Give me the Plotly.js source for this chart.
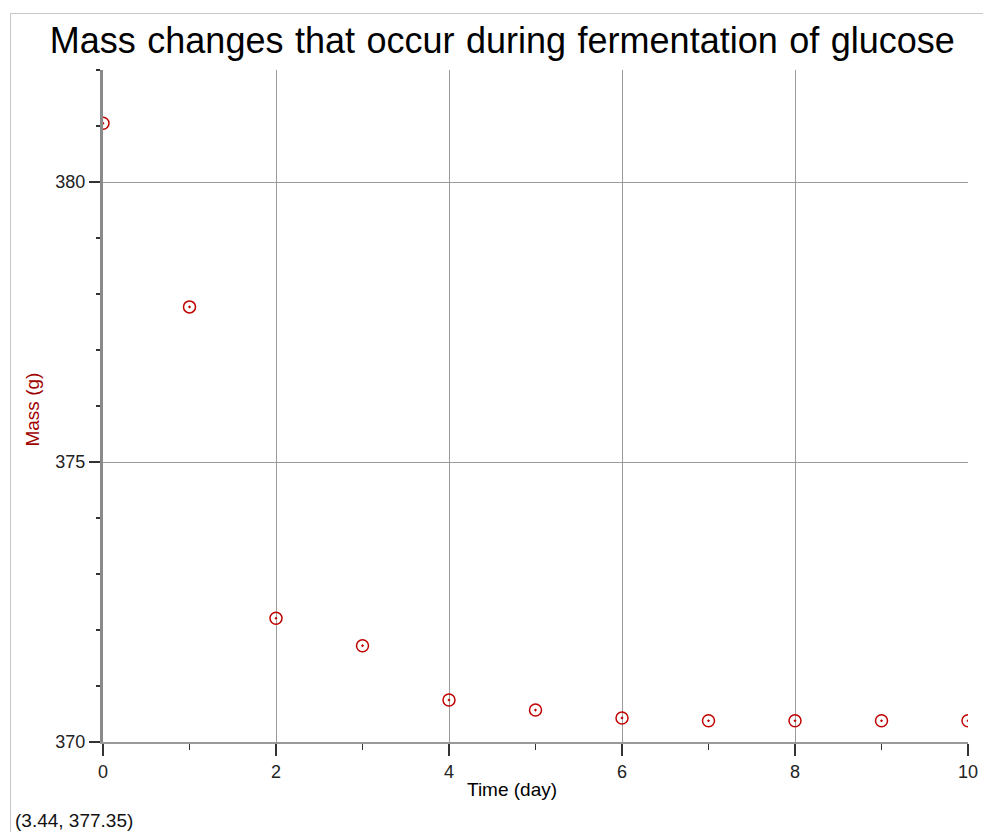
<!DOCTYPE html>
<html>
<head>
<meta charset="utf-8">
<script src="https://cdn.plot.ly/plotly-3.0.1.min.js"></script>
<style>
  html, body { margin: 0; padding: 0; background: #fff; }
  #wrap { position: relative; width: 983px; height: 832px; }
  #chart { width: 983px; height: 832px; }
  #frame { position: absolute; left: 10px; top: 13px; right: 0; bottom: 0;
           border-left: 1px solid #c8c8c8; border-top: 1px solid #c8c8c8; pointer-events: none; }
  .gtitle { word-spacing: 1.5px; }
</style>
</head>
<body>
<div id="wrap">
  <div id="chart"></div>
  <div id="frame"></div>
</div>
<script>
const timeDays = [0, 1, 2, 3, 4, 5, 6, 7, 8, 9, 10];
const massGrams = [381.05, 377.77, 372.21, 371.72, 370.75, 370.57, 370.43, 370.38, 370.38, 370.38, 370.38];
const chartTitle = 'Mass changes that occur during fermentation of glucose';
const xTitle = 'Time (day)';
const yTitle = 'Mass (g)';
const cursorReadout = '(3.44, 377.35)';

const font = 'Liberation Sans, Arial, sans-serif';

const trace = {
  x: timeDays,
  y: massGrams,
  type: 'scatter',
  mode: 'markers',
  marker: {
    symbol: 'circle-open-dot',
    size: 12,
    color: '#c00000',
    line: { color: '#c00000', width: 1.5 }
  },
  cliponaxis: true,
  hoverinfo: 'x+y'
};

const layout = {
  width: 983,
  height: 832,
  margin: { l: 103, r: 15, t: 70, b: 90 },
  paper_bgcolor: '#fff',
  plot_bgcolor: '#fff',
  showlegend: false,
  font: { family: font, color: '#222' },
  title: {
    text: chartTitle,
    font: { family: font, size: 36, color: '#000' },
    x: 0.511, xanchor: 'center',
    y: 0.951, yanchor: 'middle'
  },
  xaxis: {
    range: [0, 10],
    dtick: 2, tick0: 0,
    ticks: 'outside', ticklen: 12, tickwidth: 1.5, tickcolor: '#333',
    showgrid: true, gridcolor: '#9a9a9a', gridwidth: 1,
    zeroline: false,
    showline: true, linecolor: '#999', linewidth: 2,
    tickfont: { family: font, size: 18, color: '#222' },
    minor: { dtick: 1, ticks: 'outside', ticklen: 6, tickwidth: 1.5, tickcolor: '#333', showgrid: false },
    fixedrange: true
  },
  yaxis: {
    range: [370, 382],
    dtick: 5, tick0: 370,
    ticks: 'outside', ticklen: 11, tickwidth: 1.5, tickcolor: '#333',
    showgrid: true, gridcolor: '#9a9a9a', gridwidth: 1,
    zeroline: false,
    showline: true, linecolor: '#8a8a8a', linewidth: 3,
    tickfont: { family: font, size: 18, color: '#222' },
    minor: { dtick: 1, ticks: 'outside', ticklen: 4, tickwidth: 1.5, tickcolor: '#333', showgrid: false },
    fixedrange: true
  },
  annotations: [
    {
      text: xTitle,
      xref: 'paper', yref: 'paper',
      x: 0.473, y: -0.0714,
      xanchor: 'center', yanchor: 'middle',
      showarrow: false,
      font: { family: font, size: 19, color: '#000' }
    },
    {
      text: yTitle,
      xref: 'paper', yref: 'paper',
      x: -0.0815, y: 0.494,
      xanchor: 'center', yanchor: 'middle',
      textangle: -90,
      showarrow: false,
      font: { family: font, size: 19, color: '#a00000' }
    },
    {
      text: cursorReadout,
      xref: 'paper', yref: 'paper',
      x: -0.1035, y: -0.1175,
      xanchor: 'left', yanchor: 'middle',
      showarrow: false,
      font: { family: font, size: 19, color: '#111' }
    }
  ]
};

Plotly.newPlot('chart', [trace], layout, { displayModeBar: false, staticPlot: true });
</script>
</body>
</html>
